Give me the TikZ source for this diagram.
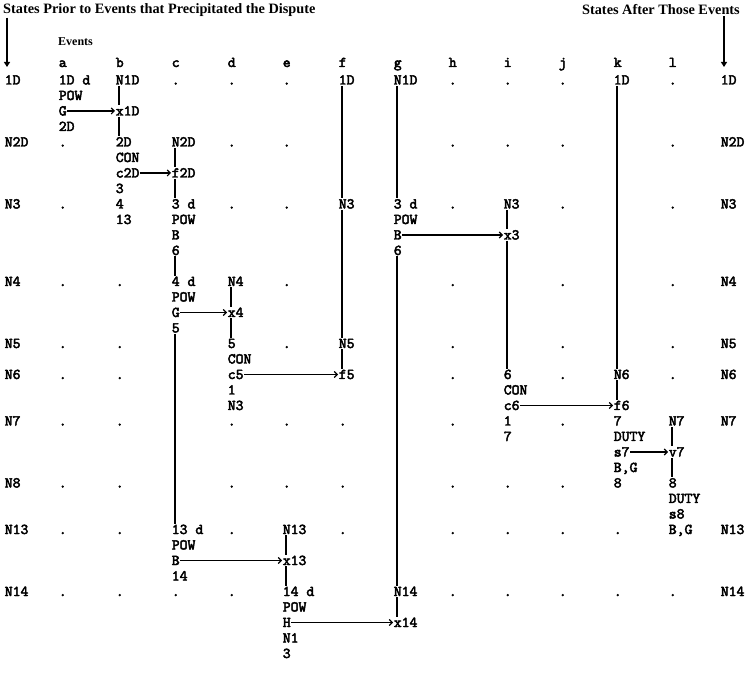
\documentclass[tikz,border=0pt]{standalone}
\usepackage{fontspec}
\newfontfamily\titlefont{Liberation Serif}
\newfontfamily\monob{lmmono10-regular.otf}[FakeBold=3]
\usetikzlibrary{arrows.meta}
\newcommand\rowy[1]{84.5+15.5*#1}
\newcommand\cel[4]{\node[txt] (#1) at (#2,\rowy{#3}) {#4};}
\newcommand\vcon[2]{\draw[vline] ([xshift=3.9pt]#1.south west) -- ([xshift=3.9pt]#2.north west);}
\newcommand\hcon[2]{\draw[harr] (#1.east) -- (#2.west);}
\begin{document}
\begin{tikzpicture}[x=1pt,y=-1pt,
  txt/.style={anchor=base west,inner xsep=0.6pt,inner ysep=1.2pt,text height=9pt,text depth=0pt,
    font=\monob\fontsize{15}{18}\selectfont},
  ttl/.style={inner sep=1pt,font=\titlefont\bfseries\fontsize{14.3}{16}\selectfont},
  vline/.style={line width=1.7pt},
  harr/.style={line width=1.1pt,-{Straight Barb[length=3pt,width=6pt,line width=1.1pt]}},
  tri/.style={line width=1.7pt,-{Triangle[length=5pt,width=6pt]}}]
\useasboundingbox (0,0) rectangle (745,676);
% titles
\node[ttl,anchor=west] (tl) at (2,10) {States Prior to Events that Precipitated the Dispute};
\node[ttl,anchor=east] (tr) at (741,10) {States After Those Events};
\node[ttl,anchor=west,font=\titlefont\bfseries\fontsize{12}{14}\selectfont] (ev) at (57,42) {Events};
\coordinate (arrL) at (7,67);
\coordinate (arrR) at (724,67);
\draw[tri] (tl.south -| arrL) -- (arrL);
\draw[tri] (tr.south -| arrR) -- (arrR);
% column letters
\foreach \n/\x in {a/58,b/115,c/171,d/227,e/282,f/338,g/393,h/448,i/503,j/558,k/613,l/668}
  \node[txt] (L\n) at (\x,67) {\n};
% left states
\cel{S0}{4}{0}{1D}\cel{S4}{4}{4}{N2D}\cel{S8}{4}{8}{N3}\cel{S13}{4}{13}{N4}\cel{S17}{4}{17}{N5}
\cel{S19}{4}{19}{N6}\cel{S22}{4}{22}{N7}\cel{S26}{4}{26}{N8}\cel{S29}{4}{29}{N13}\cel{S33}{4}{33}{N14}
% right states
\cel{R0}{720}{0}{1D}\cel{R4}{720}{4}{N2D}\cel{R8}{720}{8}{N3}\cel{R13}{720}{13}{N4}\cel{R17}{720}{17}{N5}
\cel{R19}{720}{19}{N6}\cel{R22}{720}{22}{N7}\cel{R29}{720}{29}{N13}\cel{R33}{720}{33}{N14}
% column a
\cel{a0}{58}{0}{1D d}\cel{a1}{58}{1}{POW}\cel{a2}{58}{2}{G}\cel{a3}{58}{3}{2D}
\foreach \r in {4,8,13,17,19,22,26,29,33} {\cel{a\r}{58}{\r}{.}}
% column b
\cel{b0}{115}{0}{N1D}\cel{b2}{115}{2}{x1D}\cel{b4}{115}{4}{2D}\cel{b5}{115}{5}{CON}
\cel{b6}{115}{6}{c2D}\cel{b7}{115}{7}{3}\cel{b8}{115}{8}{4}\cel{b9}{115}{9}{13}
\foreach \r in {13,17,19,22,26,29,33} {\cel{b\r}{115}{\r}{.}}
% column c
\cel{c0}{171}{0}{.}\cel{c4}{171}{4}{N2D}\cel{c6}{171}{6}{f2D}\cel{c8}{171}{8}{3 d}
\cel{c9}{171}{9}{POW}\cel{c10}{171}{10}{B}\cel{c11}{171}{11}{6}\cel{c13}{171}{13}{4 d}
\cel{c14}{171}{14}{POW}\cel{c15}{171}{15}{G}\cel{c16}{171}{16}{5}\cel{c29}{171}{29}{13 d}
\cel{c30}{171}{30}{POW}\cel{c31}{171}{31}{B}\cel{c32}{171}{32}{14}\cel{c33}{171}{33}{.}
% column d
\cel{d13}{227}{13}{N4}\cel{d15}{227}{15}{x4}\cel{d17}{227}{17}{5}\cel{d18}{227}{18}{CON}
\cel{d19}{227}{19}{c5}\cel{d20}{227}{20}{1}\cel{d21}{227}{21}{N3}
\foreach \r in {0,4,8,22,26,29,33} {\cel{d\r}{227}{\r}{.}}
% column e
\foreach \r in {0,4,8,13,17,22,26} {\cel{e\r}{282}{\r}{.}}
\cel{e29}{282}{29}{N13}\cel{e31}{282}{31}{x13}\cel{e33}{282}{33}{14 d}\cel{e34}{282}{34}{POW}
\cel{e35}{282}{35}{H}\cel{e36}{282}{36}{N1}\cel{e37}{282}{37}{3}
% column f
\cel{f0}{338}{0}{1D}\cel{f8}{338}{8}{N3}\cel{f17}{338}{17}{N5}\cel{f19}{338}{19}{f5}
\foreach \r in {22,26,29} {\cel{f\r}{338}{\r}{.}}
% column g
\cel{g0}{393}{0}{N1D}\cel{g8}{393}{8}{3 d}\cel{g9}{393}{9}{POW}\cel{g10}{393}{10}{B}
\cel{g11}{393}{11}{6}\cel{g33}{393}{33}{N14}\cel{g35}{393}{35}{x14}
% column h
\foreach \r in {0,4,8,13,17,19,22,26,29,33} {\cel{h\r}{448}{\r}{.}}
% column i
\cel{i8}{503}{8}{N3}\cel{i10}{503}{10}{x3}\cel{i19}{503}{19}{6}\cel{i20}{503}{20}{CON}
\cel{i21}{503}{21}{c6}\cel{i22}{503}{22}{1}\cel{i23}{503}{23}{7}
\foreach \r in {0,4,26,29,33} {\cel{i\r}{503}{\r}{.}}
% column j
\foreach \r in {0,4,8,13,17,19,22,26,29,33} {\cel{j\r}{558}{\r}{.}}
% column k
\cel{k0}{613}{0}{1D}\cel{k19}{613}{19}{N6}\cel{k21}{613}{21}{f6}\cel{k22}{613}{22}{7}
\cel{k23}{613}{23}{DUTY}\cel{k24}{613}{24}{s7}\cel{k25}{613}{25}{B,G}\cel{k26}{613}{26}{8}
\foreach \r in {29,33} {\cel{k\r}{613}{\r}{.}}
% column l
\foreach \r in {0,4,8,13,17,19,33} {\cel{l\r}{668}{\r}{.}}
\cel{l22}{668}{22}{N7}\cel{l24}{668}{24}{v7}\cel{l26}{668}{26}{8}\cel{l27}{668}{27}{DUTY}
\cel{l28}{668}{28}{s8}\cel{l29}{668}{29}{B,G}
% vertical connectors
\vcon{b0}{b2}\vcon{b2}{b4}
\vcon{c4}{c6}\vcon{c6}{c8}\vcon{c11}{c13}\vcon{c16}{c29}
\vcon{d13}{d15}\vcon{d15}{d17}
\vcon{e29}{e31}\vcon{e31}{e33}
\vcon{f0}{f8}\vcon{f8}{f17}\vcon{f17}{f19}
\vcon{g0}{g8}\vcon{g11}{g33}\vcon{g33}{g35}
\vcon{i8}{i10}\vcon{i10}{i19}
\vcon{k0}{k19}\vcon{k19}{k21}
\vcon{l22}{l24}\vcon{l24}{l26}
% horizontal arrows
\hcon{a2}{b2}\hcon{b6}{c6}\hcon{c15}{d15}\hcon{d19}{f19}\hcon{g10}{i10}
\hcon{c31}{e31}\hcon{e35}{g35}\hcon{i21}{k21}\hcon{k24}{l24}
\end{tikzpicture}
\end{document}
